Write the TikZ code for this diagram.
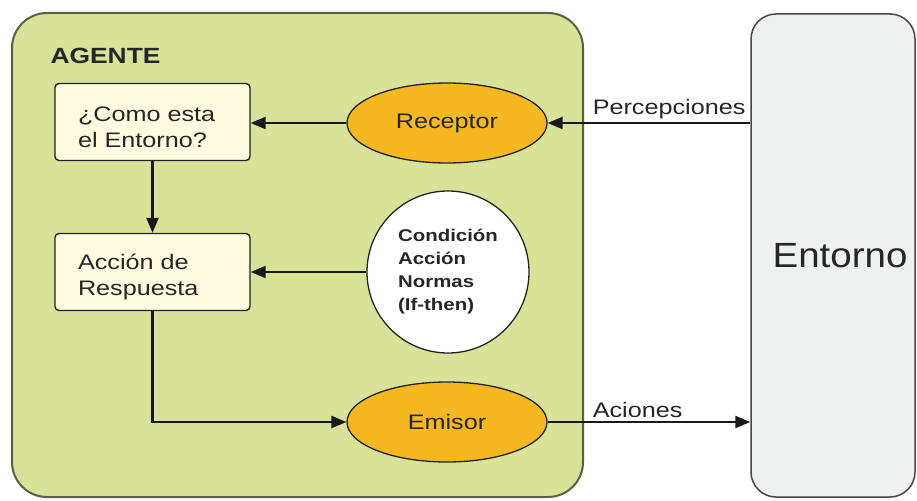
\documentclass[tikz,border=0pt]{standalone}
\usepackage{fontspec}
\setmainfont{Liberation Sans}[FakeStretch=1.2]
\newfontfamily\envfont{Liberation Sans}[FakeStretch=1.1]
\usetikzlibrary{shapes.geometric,arrows.meta,calc}

\definecolor{agentfill}{RGB}{216,226,152}
\definecolor{agentline}{RGB}{90,95,72}
\definecolor{envfill}{RGB}{239,241,241}
\definecolor{envline}{RGB}{70,72,72}
\definecolor{stepfill}{RGB}{255,252,226}
\definecolor{orangefill}{RGB}{246,184,34}
\definecolor{inkline}{RGB}{35,35,30}

\tikzset{
  txt/.style={font=\fontsize{21}{26}\selectfont, text=black!85},
  agentbox/.style={draw=agentline, line width=2pt, fill=agentfill,
    rounded corners=35pt, minimum width=571pt, minimum height=484pt, inner sep=0pt},
  envbox/.style={draw=envline, line width=1.5pt, fill=envfill,
    rounded corners=25pt, minimum width=164pt, minimum height=483pt, inner sep=0pt},
  stepbox/.style={txt, draw=inkline, line width=1.4pt, fill=stepfill,
    rounded corners=4pt, minimum width=195pt, minimum height=77pt,
    text width=149pt, inner xsep=23pt, align=left},
  orangeell/.style={txt, ellipse, draw=inkline, line width=1.3pt, fill=orangefill,
    minimum width=200pt, minimum height=80pt, inner sep=0pt},
  rulecircle/.style={circle, draw=inkline, line width=1.3pt, fill=white,
    minimum size=162pt, inner sep=0pt, align=left, text=black!85,
    font=\bfseries\fontsize{17}{23}\selectfont},
  arr/.style={line width=2.2pt, draw=black!90,
    -{Triangle[length=15pt,width=12pt]}},
  lbl/.style={txt, inner sep=3pt}
}

\begin{document}
\begin{tikzpicture}[x=1pt,y=-1pt]
\useasboundingbox (0,0) rectangle (917,500);

% agent and environment frames
\node[agentbox] (agent) at (297.5,255) {};
\node[envbox] (env) at (833,255.5) {};
\node[anchor=base west, font=\bfseries\fontsize{22}{26}\selectfont, text=black!85]
  (agentlbl) at (47,64) {AGENTE};
\node[font=\envfont\fontsize{35}{40}\selectfont, text=black!85] (envlbl) at (840,256) {Entorno};

% internal blocks
\node[stepbox] (box1) at (152.5,122) {\rule{0pt}{25pt}¿Como esta\\el Entorno?};
\node[stepbox] (box2) at (152.5,272) {\rule{0pt}{25pt}Acción de\\Respuesta};
\node[orangeell] (receptor) at (447,123) {Receptor};
\node[rulecircle] (rules) at (448,272) {Condición\\Acción\\Normas\\(If-then)};
\node[orangeell] (emisor) at (447,422) {Emisor};

% flow inside the agent
\draw[arr] (receptor.west) -- (receptor.west -| box1.east);
\draw[arr] (box1.south) -- (box2.north);
\draw[arr] (rules.west) -- (rules.west -| box2.east);
\draw[arr] (box2.south) |- (emisor.west);

% exchange with the environment
\draw[arr] (env.west |- receptor.east) -- (receptor.east)
  node[lbl, pos=1, anchor=south west, xshift=41pt] (lperc) {Percepciones};
\draw[arr] (emisor.east) -- (emisor.east -| env.west)
  node[lbl, pos=0, anchor=south west, xshift=41pt] (lacc) {Aciones};
\end{tikzpicture}
\end{document}
